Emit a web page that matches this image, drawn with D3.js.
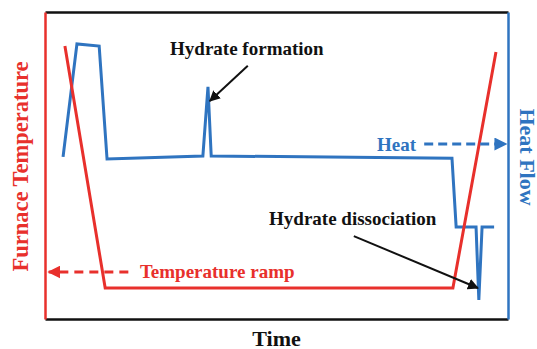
<!DOCTYPE html>
<html>
<head>
<meta charset="utf-8">
<script src="https://cdn.jsdelivr.net/npm/d3@7"></script>
<style>
  body { margin: 0; background: #fff; }
  text { font-family: "Liberation Serif", "Times New Roman", serif; font-weight: bold; }
</style>
</head>
<body>
<svg id="chart"></svg>
<script>
// time in arbitrary units (0-100), signals in arbitrary units (0-100)
var tempTime = [4.3, 13.0, 88.1, 97.4];
var tempValue = [88.9, 10.1, 10.1, 87.0];

var heatTime = [3.9, 6.9, 11.7, 13.4, 34.1, 35.2, 35.9, 87.9, 88.8, 93.1, 93.7, 94.4, 97.0];
var heatValue = [52.8, 89.6, 88.9, 52.1, 53.1, 75.6, 53.1, 52.4, 30.0, 30.0, 6.2, 30.0, 30.0];

var xTitle = "Time";
var yLeftTitle = "Furnace Temperature";
var yRightTitle = "Heat Flow";

var red = "#e8302c";
var blue = "#2f74c0";

var W = 537, H = 349;
var margin = {top: 12, right: 29, bottom: 30, left: 45};
var width = W - margin.left - margin.right;
var height = H - margin.top - margin.bottom;

var x = d3.scaleLinear().domain([0, 100]).range([0, width]);
var yT = d3.scaleLinear().domain([0, 100]).range([height, 0]);
var yH = d3.scaleLinear().domain([0, 100]).range([height, 0]);

var svg = d3.select("#chart").attr("width", W).attr("height", H);

var defs = svg.append("defs");
function marker(id, color, size) {
  defs.append("marker")
    .attr("id", id)
    .attr("viewBox", "0 0 10 10")
    .attr("refX", 9).attr("refY", 5)
    .attr("markerWidth", size).attr("markerHeight", size)
    .attr("markerUnits", "userSpaceOnUse")
    .attr("orient", "auto")
    .append("path")
    .attr("d", "M0,0L10,5L0,10z")
    .attr("fill", color);
}
marker("arrRed", red, 13);
marker("arrBlue", blue, 13);
marker("arrBlack", "#111", 11);

var g = svg.append("g").attr("transform", "translate(" + margin.left + "," + margin.top + ")");

// frame: black top/bottom, red left, blue right (axes without ticks)
g.append("g").attr("transform", "translate(0," + height + ")")
  .call(d3.axisBottom(x).tickValues([]).tickSizeOuter(0))
  .select(".domain").attr("stroke", "#111").attr("stroke-width", 2.5);
g.append("g")
  .call(d3.axisTop(x).tickValues([]).tickSizeOuter(0))
  .select(".domain").attr("stroke", "#111").attr("stroke-width", 2.5);
g.append("g")
  .call(d3.axisLeft(yT).tickValues([]).tickSizeOuter(0))
  .select(".domain").attr("stroke", red).attr("stroke-width", 2.5);
g.append("g").attr("transform", "translate(" + width + ",0)")
  .call(d3.axisRight(yH).tickValues([]).tickSizeOuter(0))
  .select(".domain").attr("stroke", blue).attr("stroke-width", 2.5);

// series
var tempData = tempTime.map(function(t, i) { return {t: t, v: tempValue[i]}; });
var heatData = heatTime.map(function(t, i) { return {t: t, v: heatValue[i]}; });

g.append("path")
  .datum(heatData)
  .attr("fill", "none").attr("stroke", blue).attr("stroke-width", 3)
  .attr("stroke-linejoin", "miter")
  .attr("d", d3.line().x(function(d) { return x(d.t); }).y(function(d) { return yH(d.v); }));

g.append("path")
  .datum(tempData)
  .attr("fill", "none").attr("stroke", red).attr("stroke-width", 3)
  .attr("d", d3.line().x(function(d) { return x(d.t); }).y(function(d) { return yT(d.v); }));

// annotations
g.append("text").attr("x", x(43.6)).attr("y", yH(86.0))
  .attr("text-anchor", "middle").attr("font-size", 19).attr("fill", "#111")
  .text("Hydrate formation");
g.append("line")
  .attr("x1", x(43.8)).attr("y1", yH(82.5))
  .attr("x2", x(35.6)).attr("y2", yH(71.0))
  .attr("stroke", "#111").attr("stroke-width", 2)
  .attr("marker-end", "url(#arrBlack)");

g.append("text").attr("x", x(48.4)).attr("y", yH(30.5))
  .attr("text-anchor", "start").attr("font-size", 19).attr("fill", "#111")
  .text("Hydrate dissociation");
g.append("line")
  .attr("x1", x(66.7)).attr("y1", yH(27.0))
  .attr("x2", x(93.5)).attr("y2", yH(10.1))
  .attr("stroke", "#111").attr("stroke-width", 2)
  .attr("marker-end", "url(#arrBlack)");

g.append("text").attr("x", x(71.7)).attr("y", yH(54.6))
  .attr("text-anchor", "start").attr("font-size", 19).attr("fill", blue)
  .text("Heat");
g.append("line")
  .attr("x1", x(81.9)).attr("y1", yH(57.0))
  .attr("x2", x(99.6)).attr("y2", yH(57.0))
  .attr("stroke", blue).attr("stroke-width", 3).attr("stroke-dasharray", "9,5")
  .attr("marker-end", "url(#arrBlue)");

g.append("text").attr("x", x(20.5)).attr("y", yT(13.4))
  .attr("text-anchor", "start").attr("font-size", 19).attr("fill", red)
  .text("Temperature ramp");
g.append("line")
  .attr("x1", x(18.0)).attr("y1", yT(15.3))
  .attr("x2", x(0.8)).attr("y2", yT(15.3))
  .attr("stroke", red).attr("stroke-width", 3).attr("stroke-dasharray", "9,6")
  .attr("marker-end", "url(#arrRed)");

// axis titles
svg.append("text")
  .attr("transform", "translate(" + (margin.left - 17) + "," + (margin.top + height / 2 + 1) + ") rotate(-90)")
  .attr("text-anchor", "middle").attr("font-size", 22.5).attr("fill", red)
  .text(yLeftTitle);
svg.append("text")
  .attr("transform", "translate(" + (margin.left + width + 12) + "," + 157 + ") rotate(90)")
  .attr("text-anchor", "middle").attr("font-size", 22).attr("fill", blue)
  .text(yRightTitle);
svg.append("text")
  .attr("x", margin.left + x(50)).attr("y", 346)
  .attr("text-anchor", "middle").attr("font-size", 22).attr("fill", "#111")
  .text(xTitle);
</script>
</body>
</html>
